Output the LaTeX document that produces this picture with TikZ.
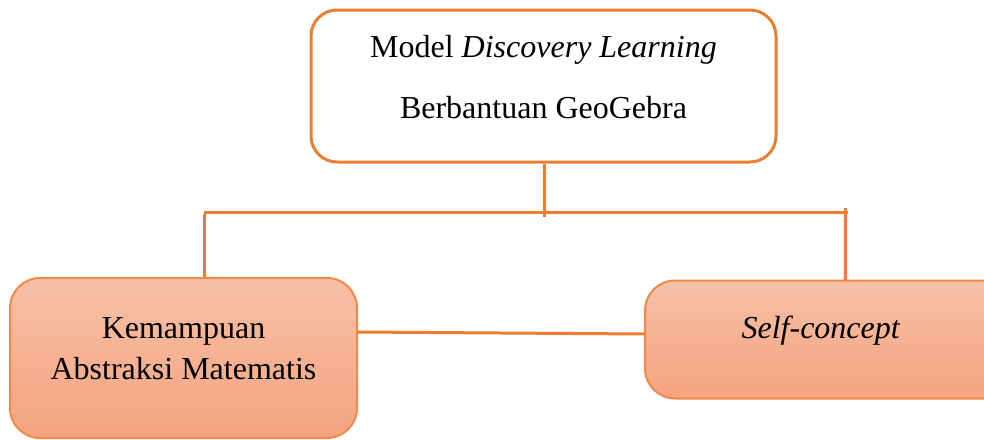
\documentclass[tikz,border=0pt]{standalone}
\usepackage{fontspec}
\setmainfont{Liberation Serif}
\begin{document}
\begin{tikzpicture}[x=1pt,y=-1pt,
  conn/.style={draw=orangeA,line width=3pt},
  topbox/.style={draw=orangeA,line width=3pt,rounded corners=26pt,fill=white,inner sep=0pt},
  botbox/.style={draw=orangeB,line width=2pt,rounded corners=30pt,top color=peachTop,bottom color=peachBot,inner sep=0pt},
  txt/.style={anchor=base,inner sep=0pt,font=\fontsize{32}{38}\selectfont}]
\definecolor{orangeA}{HTML}{ED7D31}
\definecolor{orangeB}{HTML}{F08A4B}
\definecolor{peachTop}{HTML}{F7C0A6}
\definecolor{peachBot}{HTML}{F4A47F}
\useasboundingbox (0,0) rectangle (984,439);
% boxes
\node[topbox,minimum width=465pt,minimum height=152pt] (top) at (543.5,86) {};
\node[botbox,minimum width=347pt,minimum height=160pt] (left) at (183.5,358) {};
\node[botbox,minimum width=380pt,minimum height=118pt] (right) at (835,339.5) {};
% texts
\node[txt] (t1) at (543.5,57) {Model \textit{Discovery Learning}};
\node[txt] (t2) at (543.5,118) {Berbantuan GeoGebra};
\node[txt] (l1) at (183.5,338) {Kemampuan};
\node[txt] (l2) at (183.5,379) {Abstraksi Matematis};
\node[txt] (r1) at (821,338) {\textit{Self-concept}};
% connectors
\coordinate (hl) at (204,212);
\coordinate (hr) at (848,212);
\coordinate (hm) at (544,217);
\coordinate (rv) at (845,208);
\coordinate (le) at (357,332);
\coordinate (rw) at (645,334);
\draw[conn] (top.south -| hm) -- (hm);
\draw[conn] (hl) -- (hr);
\draw[conn] ([yshift=-1.5pt]hl) -- (hl |- left.north);
\draw[conn] (rv) -- (rv |- right.north);
\draw[conn] (le) -- (rw);
\end{tikzpicture}
\end{document}
